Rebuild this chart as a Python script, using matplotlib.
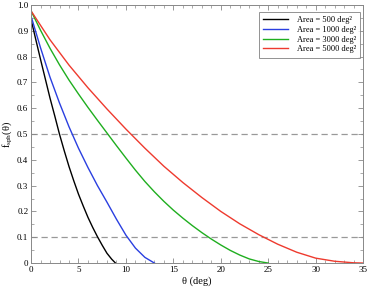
import numpy as np
import matplotlib
matplotlib.use("Agg")
import matplotlib.pyplot as plt
from matplotlib.ticker import MultipleLocator, FixedFormatter, FixedLocator

plt.rcParams['font.family'] = ['Liberation Serif', 'DejaVu Serif']
plt.rcParams['mathtext.fontset'] = 'custom'
plt.rcParams['mathtext.rm'] = 'Liberation Serif'
plt.rcParams['mathtext.it'] = 'Liberation Serif:italic'

# Curves (theta in deg, fraction)
theta_500 = [0, 0.5, 1.0, 1.5, 2.0, 2.5, 3.0, 3.5, 4.0, 4.5, 5.0, 5.5, 6.0, 6.5, 7.0, 7.5, 8.0, 8.5, 8.9]
f_500 = [0.944, 0.866, 0.789, 0.714, 0.639, 0.57, 0.499, 0.435, 0.374, 0.319, 0.267, 0.221, 0.177, 0.138, 0.102, 0.069, 0.038, 0.015, 0.0]

theta_1000 = [0, 1, 2, 3, 4, 5, 6, 7, 8, 9, 10, 11, 12, 13]
f_1000 = [0.957, 0.834, 0.72, 0.62, 0.528, 0.445, 0.37, 0.30, 0.236, 0.17, 0.108, 0.058, 0.022, 0.0]

theta_3000 = list(range(0, 26))
f_3000 = [0.977, 0.902, 0.832, 0.768, 0.709, 0.655, 0.603, 0.553, 0.504, 0.455,
          0.407, 0.36, 0.316, 0.276, 0.239, 0.205, 0.174, 0.145, 0.118, 0.093,
          0.07, 0.049, 0.031, 0.016, 0.006, 0.0]

theta_5000 = [0, 2, 4, 6, 8, 10, 12, 14, 16, 18, 20, 22, 24, 26, 28, 30, 32, 34, 35]
f_5000 = [0.977, 0.865, 0.767, 0.679, 0.597, 0.519, 0.445, 0.375, 0.312, 0.254, 0.2, 0.152, 0.11, 0.073, 0.042, 0.019, 0.007, 0.001, 0.0]

labels = ['Area = 500 deg²', 'Area = 1000 deg²',
          'Area = 3000 deg²', 'Area = 5000 deg²']
colors = ['black', '#2a3fe0', '#1fae1f', '#ee3a2e']
ref_levels = [0.5, 0.1]

fig = plt.figure(figsize=(3.74, 2.91), dpi=100)
ax = fig.add_axes([0.083, 0.096, 0.888, 0.887])

for th, f, lab, c in zip([theta_500, theta_1000, theta_3000, theta_5000],
                         [f_500, f_1000, f_3000, f_5000], labels, colors):
    ax.plot(th, f, color=c, lw=1.0, label=lab)

for lev in ref_levels:
    ax.axhline(lev, color='#999999', ls=(0, (5, 3)), lw=0.9, zorder=0)

ax.set_xlim(0, 35)
ax.set_ylim(0, 1.0)
ax.xaxis.set_major_locator(MultipleLocator(5))
ax.xaxis.set_minor_locator(MultipleLocator(1))
ax.yaxis.set_major_locator(FixedLocator(np.arange(0, 1.01, 0.1)))
ax.yaxis.set_major_formatter(FixedFormatter(['0', '0.1', '0.2', '0.3', '0.4', '0.5',
                                             '0.6', '0.7', '0.8', '0.9', '1.0']))
ax.yaxis.set_minor_locator(MultipleLocator(0.05))

ax.tick_params(which='both', direction='in', top=True, right=True,
               color='#888888', labelsize=6.5, pad=2)
ax.tick_params(which='major', length=3.5, width=0.6)
ax.tick_params(which='minor', length=2, width=0.5)
for sp in ax.spines.values():
    sp.set_color('#888888')
    sp.set_linewidth(0.7)

ax.set_xlabel(r'θ (deg)', fontsize=7.5, labelpad=2)
ax.set_ylabel(r'f$_{\rm sph}$(θ)', fontsize=7.5, labelpad=2)

leg = ax.legend(loc='upper right', fontsize=6.0, frameon=True, fancybox=False,
                handlelength=3.0, handletextpad=1.0, borderpad=0.5,
                labelspacing=0.2, borderaxespad=0.0,
                bbox_to_anchor=(0.99, 0.972))
leg.get_frame().set_edgecolor('#777777')
leg.get_frame().set_linewidth(0.7)

fig.savefig('out.png', dpi=100)
